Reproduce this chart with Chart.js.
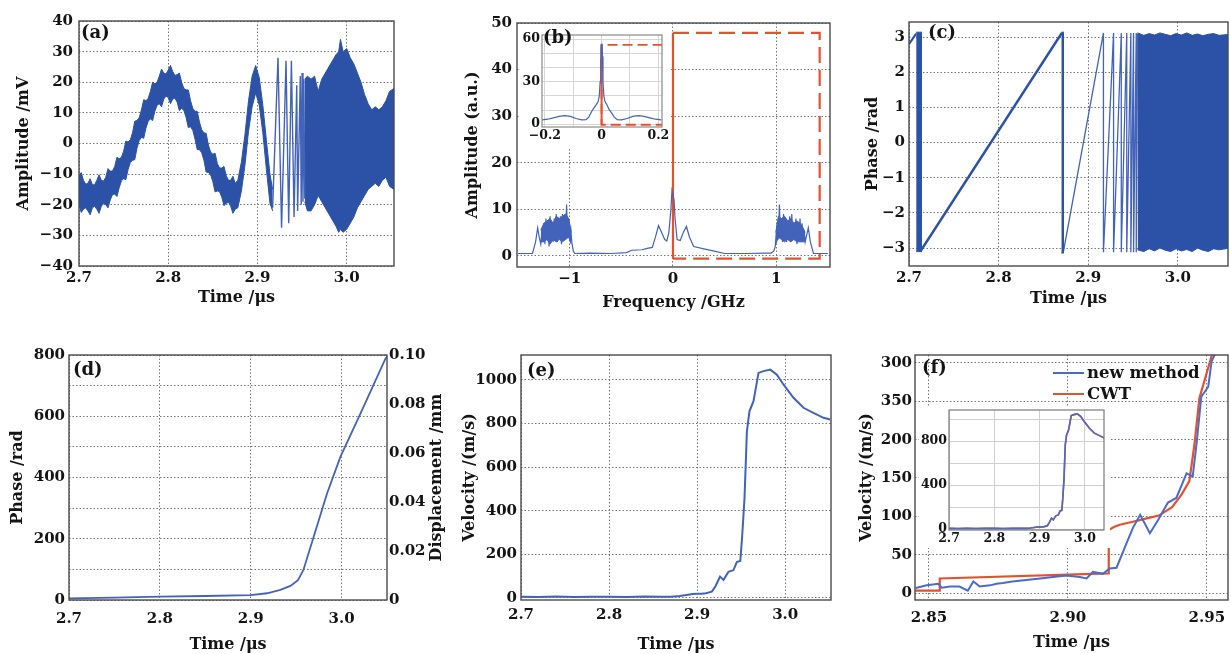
<!DOCTYPE html>
<html><head><meta charset="utf-8">
<script src="https://cdn.jsdelivr.net/npm/chart.js@4.4.0/dist/chart.umd.min.js"></script>
<style>
html,body{margin:0;padding:0;background:#fff;overflow:hidden;}
#wrap{position:relative;width:1231px;height:654px;overflow:hidden;background:#fff;}
canvas{position:absolute;}
</style></head><body><div id="wrap"></div>
<script>
// ---------------- DATA ----------------
// (a) interference signal
const aBandT = [2.700,2.7025,2.705,2.7075,2.710,2.7125,2.715,2.7175,2.720,2.7225,2.725,2.7275,2.730,2.7325,2.735,2.7375,2.740,2.7425,2.745,2.7475,2.750,2.7525,2.755,2.7575,2.760,2.7625,2.765,2.7675,2.770,2.7725,2.775,2.7775,2.780,2.7825,2.785,2.7875,2.790,2.7925,2.795,2.7975,2.800,2.8025,2.805,2.8075,2.810,2.8125,2.815,2.8175,2.820,2.8225,2.825,2.8275,2.830,2.8325,2.835,2.8375,2.840,2.8425,2.845,2.8475,2.850,2.8525,2.855,2.8575,2.860,2.8625,2.865,2.8675,2.870,2.8725,2.875,2.878,2.882,2.886,2.890,2.894,2.898,2.902,2.906,2.910,2.914,2.917];
const aBandUp = [-10.5,-9.5,-12,-13.3,-13,-11.5,-13.5,-13.5,-12,-10.2,-12,-12.3,-11,-8.2,-9,-9,-7.5,-4.5,-5,-4.5,-2.5,0.8,0.5,1.2,3.5,7.3,7.5,8.5,11,14.3,14,14.7,17,20,19.5,20,22,24.3,23,22.7,24,25.5,23.5,22.2,22.5,23,20,18,17.5,17.5,14,11.5,10.5,10.5,7,4.5,3.5,3.3,-0.5,-2.8,-3.5,-3.2,-6.5,-8,-8,-7.5,-10.5,-12,-12,-10.7,-13,-12,-6,3,14,22,25.5,21.5,12.5,1,-10,-15];
const aBandLo = [-20,-22.5,-21.5,-21,-22,-23.3,-21,-20.5,-21.5,-22.8,-20.5,-19.5,-20,-21,-18.5,-16.7,-16.5,-17.3,-14.5,-12.2,-11.5,-11.8,-8.5,-6.2,-5.5,-5.3,-1.5,1,2,1.7,5,7.3,8,7.5,10.5,12.5,13,12,14.5,15.5,15,13,14.5,14.8,13.5,10.7,11.5,10.8,8.5,5.2,5.5,4.3,1.5,-2,-2,-3,-5.5,-9.3,-9.5,-10.2,-12.5,-15.8,-15.5,-15.7,-17.5,-20.3,-19.5,-19.2,-20.5,-22.8,-21.5,-21,-15.5,-7,4,12,16.5,12.5,3.5,-8.5,-19.5,-22];
const aFringeT = [2.917,2.923,2.927,2.932,2.935,2.938,2.941,2.944,2.945,2.948,2.949,2.950,2.951,2.952,2.953];
const aFringeV = [-21,28,-27.5,27,-26,27,-24,19,-22,22,-20,23,-19,21,-18];
const aDenseT = [2.953,2.956,2.960,2.964,2.968,2.972,2.976,2.980,2.984,2.988,2.991,2.993,2.996,3.000,3.004,3.008,3.012,3.016,3.020,3.024,3.028,3.032,3.036,3.040,3.044,3.048,3.053];
const aDenseUp = [21,22,21,22,17,21,23,25,27,29,30,34,30,31,28,26,23,20,16,13,11,12,11,12,14,17,18];
const aDenseLo = [-19,-22,-22,-20,-17,-19,-21,-23,-25,-27,-29,-28,-29,-28,-26,-24,-21,-19,-17,-15,-14,-13,-14,-12,-11,-14,-15];
const aXTicks = [2.7,2.8,2.9,3.0], aXLabels = ['2.7','2.8','2.9','3.0'];
const aYTicks = [-40,-30,-20,-10,0,10,20,30,40];
const aYLabels = ['\u221240','\u221230','\u221220','\u221210','0','10','20','30','40'];

// (b) spectrum
const bF = [-1.5,-1.36,-1.33,-1.31,-1.295,-1.28,-1.27,-1.26,-1.25,-1.24,-1.23,-1.22,-1.21,-1.20,-1.19,-1.18,-1.17,-1.16,-1.15,-1.14,-1.13,-1.12,-1.11,-1.10,-1.09,-1.08,-1.07,-1.06,-1.05,-1.04,-1.03,-1.02,-1.01,-1.00,-0.99,-0.98,-0.965,-0.95,-0.8,-0.6,-0.45,-0.4,-0.3,-0.25,-0.2,-0.17,-0.14,-0.11,-0.08,-0.06,-0.04,-0.02,-0.01,0,0.01,0.02,0.04,0.07,0.1,0.13,0.16,0.2,0.3,0.4,0.5,0.7,0.9,0.95,0.975,0.99,1.00,1.01,1.02,1.03,1.04,1.05,1.06,1.07,1.08,1.09,1.10,1.11,1.12,1.13,1.14,1.15,1.16,1.17,1.18,1.19,1.20,1.21,1.22,1.23,1.24,1.25,1.26,1.27,1.28,1.295,1.31,1.33,1.36,1.5];
const bA = [0.5,0.5,3,6,4,2.5,5,3,7,2.5,8,3.5,7,2,8.5,4,6.5,3,8,4.5,9,3,7,4,8.5,2.5,9,5,8,3.5,11,4,8,5,6,3,1,0.5,0.6,0.5,0.7,1.2,1.3,1.6,1.8,4,6.5,5,3.5,3.2,5,10,14,13,12,8,3.5,3.3,5,6.3,4,2,1.5,1,0.5,0.5,0.6,0.6,1,2,5,7,3.5,11,4,8,3,9,4.5,8,3,7,4.5,8.5,3,9,4,7,3.5,8,2.5,6.5,4,8,3,7,3.5,5.5,3,4.5,6,3,0.5,0.5];
const bLcT = [-1.28,-1.25,-1.22,-1.19,-1.16,-1.13,-1.10,-1.07,-1.04,-1.01,-0.985];
const bLcUp = [5.5,7,7.5,8,7,8.5,8,8.5,9,8,5];
const bLcLo = [3,3,3.5,2.5,3.5,3,3.5,3,3.5,4,2.5];
const bRcT = [0.995,1.02,1.05,1.08,1.11,1.14,1.17,1.20,1.23,1.26,1.28];
const bRcUp = [5,8.5,8,8.5,7.5,8,7,7.5,7,6,5];
const bRcLo = [2.5,4,3.5,3,3.5,3,3.5,3,3,3,3];
const bRectX = [0,1.42,1.42,0], bRectY = [47.9,47.9,-0.6,-0.6];
const bCutX = [0,0], bCutY = [-0.6,47.9];
const bXTicks = [-1,0,1], bXLabels = ['\u22121','0','1'];
const bYTicks = [0,10,20,30,40,50], bYLabels = ['0','10','20','30','40','50'];
const bInF = [-0.21,-0.19,-0.17,-0.15,-0.13,-0.11,-0.09,-0.07,-0.055,-0.045,-0.035,-0.025,-0.018,-0.012,-0.008,-0.005,-0.003,-0.001,0.001,0.003,0.005,0.008,0.012,0.018,0.025,0.035,0.045,0.055,0.07,0.09,0.11,0.13,0.15,0.17,0.19,0.21];
const bInA = [3,3.5,4.5,5.5,6,5.5,4,3,3.2,5,9,12,14,16,20,30,45,56,57,48,30,20,16,14,11,8,5,3.2,3,4,5.5,6,5.5,4.5,3.5,3];
const bInRectX = [0.215,0,0,0.215], bInRectY = [56,56,-0.4,-0.4];
const bInCutX = [0,0], bInCutY = [-0.4,56];
const bInXTicks = [-0.2,-0.1,0,0.1,0.2], bInXLabels = ['\u22120.2','','0','','0.2'];
const bInYTicks = [0,10,20,30,40,50,60], bInYLabels = ['0','','','30','','','60'];

// (c) wrapped phase
const cStartT = [2.700,2.708], cStartV = [2.8,3.1];
const cBlockT = [2.708,2.7145], cBlockUp = [3.14,3.14], cBlockLo = [-3.1,-3.1];
const cRampT = [2.7125,2.8706], cRampV = [-3.1,3.12];
const cDropT = [2.8700,2.8730], cDropUp = [3.14,3.14], cDropLo = [-3.14,-3.14];
const cSawT = [2.8725,2.917,2.917,2.9283,2.9283,2.9369,2.9369,2.943,2.943,2.9476,2.9476,2.9506,2.9506,2.9536,2.9536,2.9551];
const cSawV = [-3.08,3.12,-3.12,3.12,-3.12,3.12,-3.12,3.12,-3.12,3.12,-3.12,3.12,-3.12,3.12,-3.12,3.1];
const cDenseT = [2.9551,2.962,2.968,2.974,2.980,2.986,2.992,2.998,3.004,3.010,3.016,3.022,3.028,3.034,3.040,3.046,3.058];
const cDenseUp = [3.12,3.05,3.1,3.06,3.12,3.08,3.04,3.1,3.06,3.12,3.05,3.09,3.04,3.08,3.1,3.05,3.08];
const cDenseLo = [-3.05,-3.1,-3.02,-3.08,-3.0,-3.06,-3.1,-3.02,-3.08,-3.04,-3.1,-3.0,-3.06,-3.1,-3.02,-3.05,-3.0];
const cYTicks = [-3,-2,-1,0,1,2,3], cYLabels = ['\u22123','\u22122','\u22121','0','1','2','3'];

// (d) unwrapped phase / displacement
const dT = [2.700,2.750,2.800,2.850,2.900,2.918,2.9326,2.9437,2.952,2.958,2.9694,2.984,2.9988,3.021,3.0393,3.0484,3.051];
const dV = [5,8,11,13,16,22,33,46,65,98,207,348,468,610,729,789,798];
const dYTicks = [0,100,200,300,400,500,600,700,800], dYLabels = ['0','','200','','400','','600','','800'];
const dY2Ticks = [0,0.02,0.04,0.06,0.08,0.10], dY2Labels = ['0','0.02','0.04','0.06','0.08','0.10'];

// (e) velocity
const eT = [2.700,2.720,2.740,2.760,2.780,2.800,2.820,2.840,2.860,2.870,2.880,2.888,2.895,2.900,2.905,2.910,2.9167,2.921,2.926,2.930,2.9356,2.9413,2.945,2.949,2.951,2.9538,2.9565,2.9594,2.964,2.9697,2.9754,2.983,2.9905,2.998,3.0094,3.0208,3.032,3.0435,3.051];
const eV = [6,5,7,5,6,6,5,7,6,6,9,14,18,20,19,22,29,55,98,83,120,128,165,170,275,458,764,856,902,1032,1040,1047,1024,979,918,872,849,826,818];
const eYTicks = [0,200,400,600,800,1000], eYLabels = ['0','200','400','600','800','1000'];

// (f) comparison
const fNewT = [2.8453,2.8492,2.8534,2.8546,2.8576,2.861,2.864,2.866,2.8683,2.872,2.8743,2.8766,2.880,2.885,2.890,2.8946,2.8995,2.9043,2.9067,2.909,2.9126,2.915,2.9175,2.921,2.9234,2.926,2.9295,2.9324,2.936,2.939,2.9427,2.9449,2.9463,2.948,2.9505,2.9517,2.953,2.955];
const fNewV = [6.5,10,12,7,8.5,8.5,3,15,8.5,10,12,13,15,17,19,21,23,21,19,27.5,25,32,33,64,85,102,78,95,118,124,156,152,195,256,269,302,312,340];
const fCwtT = [2.845,2.8538,2.8539,2.9146,2.9147,2.9165,2.9187,2.9234,2.928,2.9327,2.9375,2.941,2.9437,2.9455,2.9473,2.9497,2.9521,2.954];
const fCwtV = [3,3,19,25.6,82,86,89,93,97,101,112,129,146,193,254,284,314,340];
const fXTicks = [2.85,2.90,2.95], fXLabels = ['2.85','2.90','2.95'];
const fYTicks = [0,50,100,150,200,250,300], fYLabels = ['0','50','100','150','200','350','300'];
const fInYTicks = [0,200,400,600,800,1000], fInYLabels = ['0','','400','','800',''];
const fLegend = ['new method','CWT'];

// ---------------- HELPERS ----------------
const FONT = 'DejaVu Serif';
const W = 'bold ';
const TXT = '#141414';
const BLUE_D = '#2b52a6', BLUE_L = '#4263b9', RED = '#e5502e';
const wrap = document.getElementById('wrap');
const pts = (xs, ys) => xs.map((x, i) => ({x: x, y: ys[i]}));
function line(xs, ys, color, w, extra) {
  return Object.assign({data: pts(xs, ys), borderColor: color, backgroundColor: color, borderWidth: w,
    pointRadius: 0, tension: 0, fill: false}, extra || {});
}
function band(xs, up, lo, color) {
  return [line(xs, up, color, 1), line(xs, lo, color, 1, {fill: '-1'})];
}

const deco = {
  id: 'deco',
  beforeDraw(chart, args, o) {
    if (o.bg) { const c = chart.ctx; c.save(); c.fillStyle = o.bg; c.fillRect(0, 0, chart.width, chart.height); c.restore(); }
  },
  afterDraw(chart, args, o) {
    const ctx = chart.ctx, ca = chart.chartArea;
    ctx.save();
    ctx.strokeStyle = o.frameColor || '#4a4a4a';
    ctx.lineWidth = o.frameWidth || 1.4;
    ctx.strokeRect(ca.left, ca.top, ca.right - ca.left, ca.bottom - ca.top);
    (o.texts || []).forEach(t => {
      ctx.save();
      ctx.font = W + (t.size || 18) + 'px "' + FONT + '"';
      ctx.fillStyle = TXT;
      const x = (t.anchor === 'right' ? ca.right : ca.left) + t.dx;
      const y = (t.vmid ? (ca.top + ca.bottom) / 2 : ca.top) + t.dy;
      ctx.translate(x, y);
      if (t.rot) ctx.rotate(t.rot);
      ctx.textAlign = t.align || 'left';
      ctx.textBaseline = t.baseline || 'top';
      ctx.fillText(t.text, 0, 0);
      ctx.restore();
    });
    if (o.legend) {
      const L = o.legend;
      chart.data.datasets.filter(d => d.label).forEach((d, i) => {
        const x = ca.left + L.dx, y = ca.top + L.dy + i * L.row;
        ctx.strokeStyle = d.borderColor; ctx.lineWidth = 2;
        ctx.beginPath(); ctx.moveTo(x, y); ctx.lineTo(x + L.len, y); ctx.stroke();
        ctx.font = W + L.size + 'px "' + FONT + '"'; ctx.fillStyle = TXT;
        ctx.textAlign = 'left'; ctx.textBaseline = 'middle';
        ctx.fillText(d.label, x + L.len + L.gap, y + 1);
      });
    }
    ctx.restore();
  }
};
Chart.register(deco);

function axis(kind, min, max, ticks, labels, o) {
  const s = {
    type: 'linear', min: min, max: max,
    afterBuildTicks: sc => { sc.ticks = ticks.map(v => ({value: v})); },
    ticks: {callback: (v, i) => labels[i], color: TXT, font: {family: FONT, size: o.fs || 15, weight: 'bold'},
      padding: o.pad, maxRotation: 0, autoSkip: false},
    grid: {display: o.grid !== false, color: o.gridColor || '#777', lineWidth: 1, drawTicks: false},
    border: {display: false, dash: o.dash || [1.5, 2]},
    title: o.title ? {display: true, text: o.title, color: TXT, font: {family: FONT, size: 16, weight: 'bold', lineHeight: 1.2}, padding: 0}
                   : {display: false}
  };
  if (kind === 'x') {
    s.position = 'bottom';
    s.afterFit = sc => { sc.height = o.size; sc.paddingLeft = 0; sc.paddingRight = 0; };
  } else {
    s.position = o.position || 'left';
    s.afterFit = sc => { sc.width = o.size; sc.paddingTop = 0; sc.paddingBottom = 0; };
  }
  return s;
}

function panel(g, datasets, scales, decoOpts) {
  const cv = document.createElement('canvas');
  const w = (g.r - g.l) + g.L + g.R, h = (g.b - g.t) + g.T + g.B;
  cv.width = w; cv.height = h;
  cv.style.left = (g.l - g.L) + 'px'; cv.style.top = (g.t - g.T) + 'px';
  cv.style.width = w + 'px'; cv.style.height = h + 'px';
  wrap.appendChild(cv);
  new Chart(cv, {
    type: 'line',
    data: {datasets: datasets},
    options: {
      responsive: false, animation: false, devicePixelRatio: 1, events: [],
      layout: {padding: {left: 0, top: g.T, right: g.R - (g.R2 || 0), bottom: 0}},
      scales: scales,
      plugins: {legend: {display: false}, tooltip: {enabled: false}, deco: decoOpts || {}}
    }
  });
}

// ---------------- PANELS ----------------
// (a)
const GA = {l: 79, r: 394, t: 21, b: 266, L: 65, B: 41, T: 12, R: 8};
panel(GA,
  [].concat(band(aBandT, aBandUp, aBandLo, BLUE_D),
    [line(aFringeT, aFringeV, BLUE_L, 1.4)],
    band(aDenseT, aDenseUp, aDenseLo, BLUE_D)),
  {x: axis('x', 2.7, 3.053, aXTicks, aXLabels, {pad: 3, size: GA.B, title: 'Time /\u03bcs'}),
   y: axis('y', -40, 40, aYTicks, aYLabels, {pad: 6, size: GA.L, title: 'Amplitude /mV'})},
  {texts: [{text: '(a)', dx: 2, dy: 3, size: 18}]});

// (b)
const GB = {l: 517, r: 830, t: 23, b: 267, L: 54, B: 45, T: 12, R: 4};
panel(GB,
  [].concat(band(bLcT, bLcUp, bLcLo, BLUE_L), band(bRcT, bRcUp, bRcLo, BLUE_L),
   [line(bF, bA, BLUE_L, 1.2),
    line(bRectX, bRectY, RED, 2.2, {borderDash: [16, 7]}),
    line(bCutX, bCutY, RED, 2.2)]),
  {x: axis('x', -1.51, 1.52, bXTicks, bXLabels, {pad: 3, size: GB.B, title: 'Frequency /GHz'}),
   y: axis('y', -2.4, 50, bYTicks, bYLabels, {pad: 5, size: GB.L, title: 'Amplitude (a.u.)'})});

// (c)
const GC = {l: 909, r: 1228, t: 22, b: 266, L: 46, B: 42, T: 12, R: 3};
panel(GC,
  [].concat([line(cStartT, cStartV, BLUE_D, 2)],
    band(cBlockT, cBlockUp, cBlockLo, BLUE_D),
    [line(cRampT, cRampV, BLUE_D, 2.6)],
    band(cDropT, cDropUp, cDropLo, BLUE_D),
    [line(cSawT, cSawV, BLUE_L, 1.3)],
    band(cDenseT, cDenseUp, cDenseLo, BLUE_D)),
  {x: axis('x', 2.7, 3.056, aXTicks, aXLabels, {pad: 3, size: GC.B, title: 'Time /\u03bcs'}),
   y: axis('y', -3.51, 3.43, cYTicks, cYLabels, {pad: 4, size: GC.L, title: 'Phase /rad'})},
  {texts: [{text: '(c)', dx: 19, dy: 2, size: 18}]});

// (d)
const GD = {l: 69, r: 387, t: 355, b: 600, L: 61, B: 54, T: 12, R: 62, R2: 62};
panel(GD,
  [line(dT, dV, BLUE_L, 1.8)],
  {x: axis('x', 2.7, 3.05, aXTicks, aXLabels, {pad: 10, size: GD.B, title: 'Time /\u03bcs'}),
   y: axis('y', 0, 800, dYTicks, dYLabels, {pad: 4, size: GD.L, title: 'Phase /rad'}),
   y2: axis('y', 0, 0.1, dY2Ticks, dY2Labels, {pad: 2, size: GD.R2, position: 'right', grid: false})},
  {texts: [{text: '(d)', dx: 4, dy: 6, size: 18},
           {text: 'Displacement /mm', anchor: 'right', vmid: true, dx: 50, dy: 0, size: 16,
            rot: -Math.PI / 2, align: 'center', baseline: 'middle'}]});

// (e)
const GE = {l: 521, r: 831, t: 355, b: 600, L: 61, B: 54, T: 12, R: 6};
panel(GE,
  [line(eT, eV, BLUE_L, 2)],
  {x: axis('x', 2.7, 3.052, aXTicks, aXLabels, {pad: 6, size: GE.B, title: 'Time /\u03bcs'}),
   y: axis('y', -9.2, 1114, eYTicks, eYLabels, {pad: 4, size: GE.L, title: 'Velocity /(m/s)'})},
  {texts: [{text: '(e)', dx: 6, dy: 7, size: 18}]});

// (f)
const GF = {l: 915, r: 1228, t: 355, b: 600, L: 58, B: 52, T: 12, R: 3};
panel(GF,
  [line(fNewT, fNewV, '#4a6bc9', 2, {label: fLegend[0]}),
   line(fCwtT, fCwtV, RED, 2.2, {label: fLegend[1]})],
  {x: axis('x', 2.845, 2.9576, fXTicks, fXLabels, {pad: 9, size: GF.B, title: 'Time /\u03bcs'}),
   y: axis('y', -9.1, 310.4, fYTicks, fYLabels, {pad: 3, size: GF.L, title: 'Velocity /(m/s)'})},
  {texts: [{text: '(f)', dx: 7, dy: 4, size: 18}],
   legend: {dx: 138, dy: 18, row: 21, len: 31, gap: 3, size: 16.5}});

// insets
const GBI = {l: 542, r: 662, t: 35, b: 127, L: 23, B: 20, T: 11, R: 8};
panel(GBI,
  [line(bInF, bInA, BLUE_L, 1.2),
   line(bInRectX, bInRectY, RED, 1.8, {borderDash: [10, 5]}),
   line(bInCutX, bInCutY, RED, 2)],
  {x: axis('x', -0.21, 0.213, bInXTicks, bInXLabels, {pad: 1, size: GBI.B, fs: 12.5, gridColor: '#d6d6d6', dash: []}),
   y: axis('y', -2, 63, bInYTicks, bInYLabels, {pad: 2, size: GBI.L, fs: 12.5, gridColor: '#d6d6d6', dash: []})},
  {bg: '#ffffff', frameColor: '#8a8a8a', frameWidth: 1.2,
   texts: [{text: '(b)', dx: 1, dy: -6, size: 18}]});

const GFI = {l: 949, r: 1104, t: 410, b: 530, L: 30, B: 18, T: 3, R: 6};
panel(GFI,
  [line(eT, eV, '#4a6bc9', 1.6), line(eT, eV, RED, 1.6)],
  {x: axis('x', 2.7, 3.042, aXTicks, aXLabels, {pad: 1, size: GFI.B, fs: 12.5, gridColor: '#d0d0d0', dash: []}),
   y: axis('y', -9, 1082, fInYTicks, fInYLabels, {pad: 2, size: GFI.L, fs: 12.5, gridColor: '#d0d0d0', dash: []})},
  {bg: '#ffffff', frameColor: '#7a7a7a', frameWidth: 1.2});
</script>
</body></html>
